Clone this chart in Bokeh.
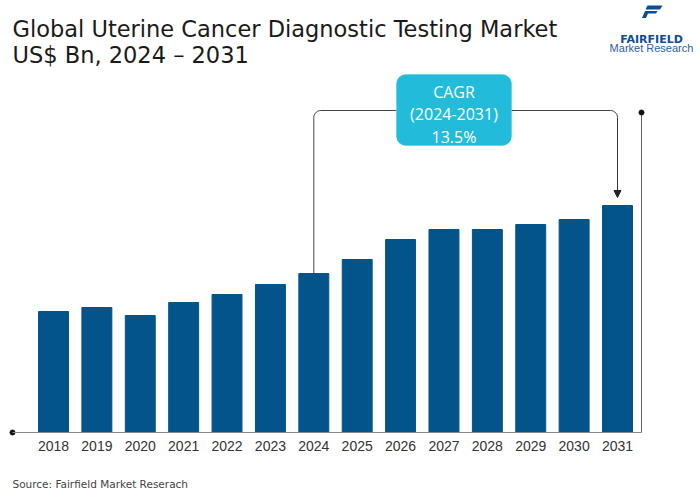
import numpy as np
from bokeh.plotting import figure
from bokeh.models import Range1d, Label, BoxAnnotation, Arrow, NormalHead, FixedTicker, PolyAnnotation
from bokeh.embed import file_html
from bokeh.resources import INLINE

# ---- data ----
years = [2018, 2019, 2020, 2021, 2022, 2023, 2024, 2025, 2026, 2027, 2028, 2029, 2030, 2031]
market = [1.21, 1.25, 1.17, 1.30, 1.38, 1.48, 1.59, 1.73, 1.93, 2.03, 2.03, 2.08, 2.13, 2.27]
tick_labels = {y: str(y) for y in years}
title_lines = ["Global Uterine Cancer Diagnostic Testing Market", "US$ Bn, 2024 \u2013 2031"]
cagr_lines = ["CAGR", "(2024-2031)", "13.5%"]
cagr_start, cagr_end = 2024, 2031
source_text = "Source: Fairfield Market Reserach"

BAR = "#03548a"
CYAN = "#22bcda"
LOGO = "#0f4c92"

W, H = 700, 491
PX_X = 43.385   # px per year
PX_Y = 100.0    # px per unit

def ref_x(X):  # page x -> data x
    return 2018 + (X - 53) / PX_X

def ref_y(Y):
    return (432 - Y) / PX_Y

p = figure(width=W, height=H, output_backend="svg", toolbar_location=None,
           x_range=Range1d(ref_x(0), ref_x(700)), y_range=Range1d(ref_y(491), ref_y(0)),
           y_axis_location=None, min_border_left=0, min_border_right=0,
           min_border_top=0, min_border_bottom=0)
p.outline_line_color = None
p.xgrid.visible = False
p.ygrid.visible = False
p.background_fill_color = "white"
p.border_fill_color = "white"

p.vbar(x=years, top=market, bottom=0, width=0.69, fill_color=BAR, line_color=BAR)

ax = p.xaxis[0]
ax.fixed_location = 0
ax.ticker = FixedTicker(ticks=years)
ax.major_label_overrides = tick_labels
ax.bounds = (ref_x(12), ref_x(641))
ax.axis_line_color = "#8a8a8a"
ax.axis_line_width = 1
ax.major_tick_line_color = None
ax.minor_tick_line_color = None
ax.major_label_standoff = 2
ax.major_label_text_font = "Liberation Sans"
ax.major_label_text_font_size = "14px"
ax.major_label_text_color = "#333333"

# right vertical line and end dots
xr = ref_x(641)
ytop = ref_y(112)
p.segment(x0=[xr], y0=[0], x1=[xr], y1=[ytop], line_color="#666666", line_width=1)
p.scatter(x=[ref_x(12), xr], y=[0, ytop], size=5, color="#111111")

# connector
yi = years.index(cagr_start)
yj = years.index(cagr_end)
x1, x2 = years[yi], years[yj]
yh = ref_y(110)
r = 7.0
box_l, box_r, box_t, box_b = ref_x(396), ref_x(511), ref_y(74), ref_y(145)
ang = np.linspace(np.pi, np.pi / 2, 8)
lx = [x1] + list(x1 + (r + r * np.cos(ang)) / PX_X) + [box_l]
ly = [market[yi]] + list(yh - (r - r * np.sin(ang)) / PX_Y) + [yh]
p.line(lx, ly, line_color="#444444", line_width=1)
ang2 = np.linspace(np.pi / 2, 0, 8)
rx = [box_r] + list(x2 - (r - r * np.cos(ang2)) / PX_X)
ry = [yh] + list(yh - (r - r * np.sin(ang2)) / PX_Y)
p.line(rx, ry, line_color="#444444", line_width=1)
p.add_layout(Arrow(x_start=x2, y_start=yh - r / PX_Y, x_end=x2, y_end=market[yj] + 8 / PX_Y,
                   line_color="#333333", line_width=1,
                   end=NormalHead(size=7, fill_color="#222222", line_color="#222222")))

p.add_layout(BoxAnnotation(left=box_l, right=box_r, top=box_t, bottom=box_b,
                           fill_color=CYAN, fill_alpha=1.0, line_color=CYAN,
                           border_radius=9))
cx = (box_l + box_r) / 2
for i, t in enumerate(cagr_lines):
    p.add_layout(Label(x=cx, y=ref_y(91 + 22.5 * i), text=t, text_align="center",
                       text_baseline="alphabetic", text_color="white",
                       text_font="Open Sans", text_font_size="16px"))

# screen units relative to frame bottom-left (frame = whole canvas here)
def sx(X):
    return list(X)

def sy(Y):
    return [H - v for v in Y]

for t, Y in zip(title_lines, [28.5, 54]):
    p.add_layout(Label(x=12, y=H - Y, x_units="screen", y_units="screen", text=t,
                       text_baseline="alphabetic", text_align="left", text_color="#1a1a1a",
                       text_font="DejaVu Sans", text_font_size="22.5px"))

p.add_layout(Label(x=12, y=H - 483, x_units="screen", y_units="screen", text=source_text,
                   text_baseline="alphabetic", text_align="left", text_color="#444444",
                   text_font="DejaVu Sans", text_font_size="10.5px"))

# logo
p.add_layout(PolyAnnotation(xs=sx([647, 662, 659.5, 645]), ys=sy([5, 5, 9, 9]),
                            xs_units="screen", ys_units="screen",
                            fill_color=LOGO, fill_alpha=1, line_color=None))
p.add_layout(PolyAnnotation(xs=sx([644.5, 657, 655.5, 647.5, 645.5, 641.5]),
                            ys=sy([10.5, 10.5, 13, 13, 17.5, 17.5]),
                            xs_units="screen", ys_units="screen",
                            fill_color=LOGO, fill_alpha=1, line_color=None))
p.add_layout(Label(x=651, y=H - 38.5, x_units="screen", y_units="screen", text="FAIRFIELD",
                   text_align="center", text_baseline="alphabetic", text_color=LOGO,
                   text_font="DejaVu Sans", text_font_style="bold", text_font_size="11px"))
p.add_layout(Label(x=651, y=H - 47.5, x_units="screen", y_units="screen", text="Market Research",
                   text_align="center", text_baseline="alphabetic", text_color="#2a62a8",
                   text_font="Liberation Sans", text_font_size="11px"))

open("out.html", "w").write(file_html(p, INLINE))
